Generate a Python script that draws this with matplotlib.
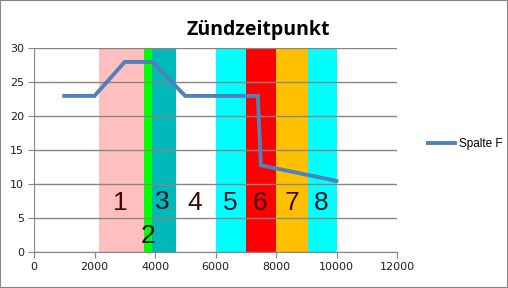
import matplotlib
matplotlib.use("Agg")
import matplotlib.pyplot as plt
from matplotlib.patches import Rectangle

# line series "Spalte F"
rpm = [1000, 2000, 3000, 3900, 5000, 7400, 7500, 10000]
angle = [23, 23, 28, 28, 23, 23, 12.8, 10.5]

# coloured zones
band_edges = [2150, 3640, 3900, 4700, 6000, 7000, 8000, 9050, 10000]
band_colors = ["#FFBFBF", "#00FF00", "#00B8B8", "white", "#00FFFF",
               "#FF0000", "#FFC000", "#00FFFF"]

# zone numbers
zone_labels = ["1", "2", "3", "4", "5", "6", "7", "8"]
zone_x = [2850, 3760, 4230, 5320, 6480, 7470, 8520, 9510]
zone_y = [7.3, 2.4, 7.4, 7.3, 7.3, 7.3, 7.3, 7.3]
zone_colors = ["#3B0A0A", "#101010", "#0A1A2A", "#3B0A0A", "#0A1A2A",
               "#3B0A0A", "#3B0A0A", "#0A1A2A"]

fig = plt.figure(figsize=(5.08, 2.88), dpi=100)
ax = fig.add_axes([34 / 508, 1 - 252.3 / 288, 363 / 508, 204 / 288])

for i, c in enumerate(band_colors):
    ax.axvspan(band_edges[i], band_edges[i + 1], color=c, lw=0, zorder=1)

ax.set_xlim(0, 12000)
ax.set_ylim(0, 30)
ax.set_xticks(range(0, 12001, 2000))
ax.set_yticks(range(0, 31, 5))
ax.yaxis.grid(True, color="#868686", lw=1, zorder=2)
ax.set_axisbelow(False)

ax.plot(rpm, angle, color="#4F81BD", lw=2.8, label="Spalte F", zorder=4,
        solid_joinstyle="miter")

for t, x, y, c in zip(zone_labels, zone_x, zone_y, zone_colors):
    ax.text(x, y, t, ha="center", va="center", fontsize=19,
            family="Liberation Sans", color=c, zorder=5)

for s in ["top", "right"]:
    ax.spines[s].set_visible(False)
for s in ["left", "bottom"]:
    ax.spines[s].set_color("#868686")
ax.tick_params(colors="#868686", labelcolor="#202020", labelsize=8, length=4,
               pad=3)

fig.text(0.508, 1 - 30 / 288, "Zündzeitpunkt", ha="center", va="center",
         fontsize=14, fontweight="bold", family="Open Sans")

fig.legend(loc="center left", bbox_to_anchor=(0.833, 0.5), frameon=False,
           prop={"family": "Liberation Sans", "size": 8.5},
           handlelength=2.3, handletextpad=0.3, borderaxespad=0)

fig.patches.append(Rectangle((0, 0), 1, 1, transform=fig.transFigure,
                             fill=False, ec="#868686", lw=1.5))

fig.savefig("out.png", dpi=100)
